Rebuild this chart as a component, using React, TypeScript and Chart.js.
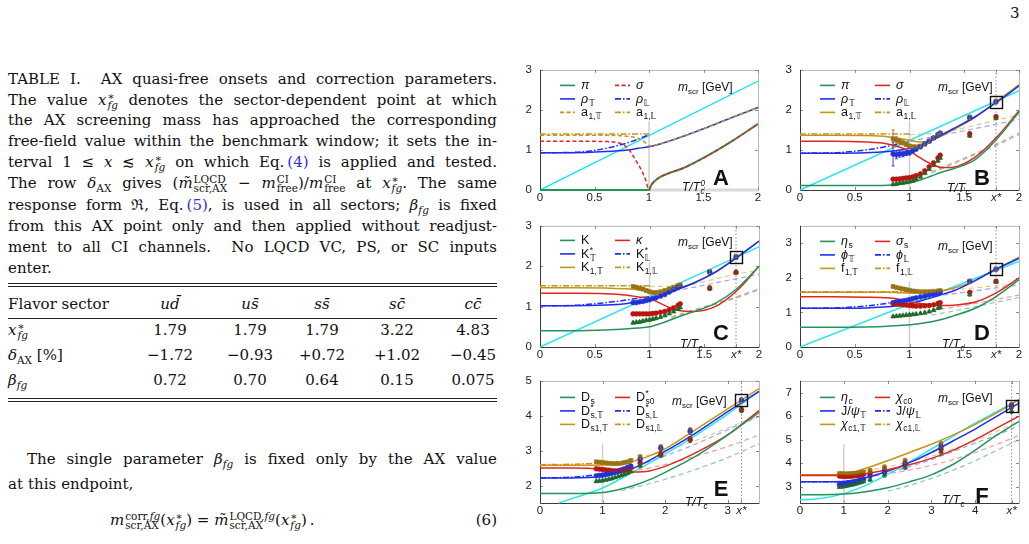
import React, { useEffect, useRef } from "react";
import { Chart, registerables } from "chart.js";

Chart.register(...registerables);

const SERIF = '"DejaVu Serif", "Liberation Serif", serif';
const SANS = '"Liberation Sans", "DejaVu Sans", Arial, sans-serif';

// ---------------- Table I ----------------
const SECTOR_QUARKS: [string, string][] = [["u", "d"], ["u", "s"], ["s", "s"], ["s", "c"], ["c", "c"]];
const X_STAR = [1.79, 1.79, 1.79, 3.22, 4.83];
const DELTA_AX = [-1.72, -0.93, 0.72, 1.02, -0.45];
const BETA = ["0.72", "0.70", "0.64", "0.15", "0.075"];

// ---------------- Panel A (chiral limit) ----------------
const A_PI_X = [0, 0.5, 1.0, 1.02, 1.05, 1.1, 1.2, 1.3, 1.5, 1.75, 2.0];
const A_PI_Y = [0, 0, 0, 0.12, 0.22, 0.32, 0.44, 0.53, 0.8, 1.2, 1.65];
const A_SIGMA_X = [0, 0.3, 0.6, 0.7, 0.8, 0.87, 0.93, 0.97, 1.0, 1.02, 1.05, 1.1, 1.2, 1.3, 1.5, 1.75, 2.0];
const A_SIGMA_Y = [1.22, 1.22, 1.21, 1.19, 1.06, 0.78, 0.5, 0.25, 0, 0.12, 0.22, 0.32, 0.44, 0.53, 0.8, 1.2, 1.65];
const A_RHO_X = [0, 0.3, 0.6, 0.8, 0.9, 1.0, 1.1, 1.25, 1.5, 1.75, 2.0];
const A_RHO_T = [0.93, 0.93, 0.96, 1.0, 1.04, 1.08, 1.15, 1.28, 1.53, 1.8, 2.06];
const A_A1T_X = [0, 0.3, 0.6, 0.8, 0.9, 0.96, 1.0, 1.1, 1.25, 1.5, 1.75, 2.0];
const A_A1T_Y = [1.37, 1.37, 1.37, 1.34, 1.29, 1.2, 1.1, 1.15, 1.28, 1.53, 1.8, 2.06];
const A_RHO_L_X = [0, 0.3, 0.5, 0.7, 0.85, 1.0];
const A_RHO_L_Y = [0.93, 0.94, 0.99, 1.1, 1.22, 1.38];
const A_A1L_X = [0, 0.5, 1.0];
const A_A1L_Y = [1.4, 1.4, 1.4];
const A_FREE = [0, 2.72];
const A_REF = [0, 1.72];

// ---------------- shared grids for B, C, D ----------------
const FREE_X = [0, 2];
const FREE_LIGHT = [0, 2.48];
const G_BCD = [0, 0.3, 0.6, 0.8, 0.9, 1.0, 1.1, 1.2, 1.3, 1.4, 1.6, 1.8, 2.0];
const LOW_BCD = [0, 0.3, 0.5, 0.7, 0.85, 1.0];
const HIGH_BCD = [1.0, 1.25, 1.5, 1.75, 2.0];
const TAIL_BCD = [1.2, 1.5, 1.8, 2.0];
const DENSE_BCD = [0.85, 0.88, 0.91, 0.94, 0.97, 1.0, 1.03, 1.06, 1.1, 1.14, 1.18, 1.22, 1.26, 1.28, 1.55, 1.79];
const ERR_BCD = [0.03, 0.03, 0.03, 0.03, 0.03, 0.03, 0.03, 0.03, 0.03, 0.03, 0.03, 0.03, 0.03, 0.03, 0.05, 0.04];

// ---------------- Panel B (u d-bar) ----------------
const B_PI = [0.11, 0.11, 0.11, 0.12, 0.14, 0.18, 0.25, 0.35, 0.45, 0.53, 0.76, 1.28, 1.95];
const B_SIGMA = [1.22, 1.22, 1.2, 1.15, 1.08, 0.97, 0.8, 0.65, 0.56, 0.57, 0.82, 1.33, 1.98];
const B_RHO_T = [0.92, 0.92, 0.93, 0.96, 0.99, 1.04, 1.12, 1.24, 1.38, 1.53, 1.83, 2.2, 2.6];
const B_A1_T = [1.37, 1.37, 1.36, 1.33, 1.29, 1.24, 1.2, 1.24, 1.36, 1.5, 1.82, 2.22, 2.63];
const B_RHO_L_LOW = [0.92, 0.93, 0.97, 1.04, 1.12, 1.2];
const B_A1_L_LOW = [1.4, 1.4, 1.4, 1.4, 1.4, 1.4];
const B_RHO_L_HIGH = [1.22, 1.35, 1.48, 1.62, 1.76];
const B_A1_L_HIGH = [1.38, 1.42, 1.55, 1.72, 1.87];
const B_SIGMA_FAINT = [0.45, 0.8, 1.15, 1.42];
const B_PI_FAINT = [0.42, 0.77, 1.12, 1.39];
const B_LAT_RHO = [0.9, 0.88, 0.9, 0.9, 0.92, 0.93, 0.98, 1.02, 1.08, 1.15, 1.22, 1.3, 1.38, 1.42, 1.8, 2.2];
const B_LAT_A1 = [1.28, 1.25, 1.22, 1.18, 1.14, 1.1, 1.08, 1.08, 1.1, 1.15, 1.22, 1.3, 1.38, 1.42, 1.82, 2.22];
const B_LAT_SIGMA = [0.27, 0.27, 0.28, 0.29, 0.3, 0.31, 0.33, 0.36, 0.4, 0.48, 0.58, 0.68, 0.8, 0.87, 1.4, 1.83];
const B_LAT_PI = [0.14, 0.15, 0.17, 0.18, 0.19, 0.21, 0.23, 0.27, 0.33, 0.42, 0.52, 0.62, 0.73, 0.8, 1.36, 1.8];
const B_ERR_RHO = [0.3, 0.1, 0.08, 0.07, 0.06, 0.05, 0.04, 0.04, 0.03, 0.03, 0.03, 0.03, 0.03, 0.03, 0.05, 0.04];
const B_ERR_A1 = [0.22, 0.08, 0.06, 0.05, 0.05, 0.04, 0.04, 0.03, 0.03, 0.03, 0.03, 0.03, 0.03, 0.03, 0.05, 0.04];
const B_REF = [0, 1.72];

// ---------------- Panel C (u s-bar) ----------------
const C_K = [0.4, 0.4, 0.42, 0.45, 0.47, 0.5, 0.58, 0.68, 0.78, 0.87, 1.08, 1.45, 2.0];
const C_KAPPA = [1.33, 1.33, 1.32, 1.28, 1.24, 1.2, 1.08, 0.96, 0.89, 0.88, 1.0, 1.4, 2.0];
const C_KST_T = [1.02, 1.02, 1.04, 1.08, 1.12, 1.17, 1.26, 1.36, 1.47, 1.58, 1.85, 2.22, 2.62];
const C_K1_T = [1.47, 1.47, 1.46, 1.44, 1.41, 1.37, 1.36, 1.4, 1.48, 1.58, 1.86, 2.23, 2.63];
const C_KST_L_LOW = [1.02, 1.03, 1.07, 1.13, 1.19, 1.25];
const C_K1_L_LOW = [1.52, 1.52, 1.52, 1.52, 1.52, 1.52];
const C_KST_L_HIGH = [1.26, 1.4, 1.53, 1.67, 1.8];
const C_K1_L_HIGH = [1.5, 1.5, 1.62, 1.78, 1.9];
const C_KAPPA_FAINT = [0.75, 1.0, 1.25, 1.45];
const C_K_FAINT = [0.72, 0.98, 1.22, 1.42];
const C_LAT_KST = [1.1, 1.1, 1.12, 1.13, 1.15, 1.17, 1.2, 1.22, 1.26, 1.3, 1.36, 1.42, 1.48, 1.5, 1.85, 2.22];
const C_LAT_K1 = [1.5, 1.48, 1.46, 1.44, 1.4, 1.37, 1.35, 1.35, 1.37, 1.4, 1.44, 1.48, 1.52, 1.54, 1.87, 2.25];
const C_LAT_KAPPA = [0.82, 0.82, 0.82, 0.82, 0.82, 0.82, 0.83, 0.84, 0.86, 0.88, 0.92, 0.97, 1.03, 1.07, 1.46, 1.85];
const C_LAT_K = [0.6, 0.61, 0.62, 0.64, 0.66, 0.67, 0.69, 0.71, 0.74, 0.78, 0.83, 0.88, 0.94, 0.98, 1.45, 1.85];
const C_REF = [0, 2.1];

// ---------------- Panel D (s s-bar) ----------------
const D_ETA = [0.57, 0.57, 0.58, 0.6, 0.62, 0.64, 0.68, 0.73, 0.8, 0.9, 1.12, 1.48, 1.95];
const D_SIGMA = [1.45, 1.45, 1.44, 1.42, 1.38, 1.31, 1.26, 1.22, 1.2, 1.21, 1.3, 1.58, 2.0];
const D_PHI_T = [1.12, 1.12, 1.13, 1.16, 1.2, 1.25, 1.33, 1.42, 1.52, 1.62, 1.92, 2.27, 2.56];
const D_F1_T = [1.58, 1.58, 1.58, 1.58, 1.57, 1.56, 1.56, 1.58, 1.63, 1.7, 1.92, 2.26, 2.6];
const D_PHI_L_LOW = [1.12, 1.13, 1.16, 1.22, 1.29, 1.36];
const D_F1_L_LOW = [1.6, 1.6, 1.6, 1.6, 1.6, 1.6];
const D_PHI_L_HIGH = [1.37, 1.48, 1.58, 1.69, 1.79];
const D_F1_L_HIGH = [1.6, 1.62, 1.68, 1.76, 1.84];
const D_SIGMA_FAINT = [1.05, 1.2, 1.38, 1.5];
const D_ETA_FAINT = [0.92, 1.1, 1.3, 1.43];
const D_LAT_F1 = [1.75, 1.72, 1.7, 1.68, 1.66, 1.64, 1.62, 1.61, 1.6, 1.6, 1.6, 1.61, 1.62, 1.63, 1.9, 2.25];
const D_LAT_PHI = [1.28, 1.3, 1.32, 1.33, 1.35, 1.37, 1.4, 1.42, 1.45, 1.47, 1.5, 1.52, 1.55, 1.57, 1.9, 2.25];
const D_LAT_SIGMA = [1.25, 1.24, 1.23, 1.22, 1.21, 1.2, 1.19, 1.18, 1.18, 1.19, 1.2, 1.22, 1.26, 1.28, 1.58, 1.9];
const D_LAT_ETA = [0.88, 0.89, 0.9, 0.91, 0.92, 0.93, 0.94, 0.95, 0.97, 0.99, 1.02, 1.06, 1.12, 1.15, 1.52, 1.88];
const D_REF = [0, 1.9];

// ---------------- Panel E (s c-bar) ----------------
const E_X = [0, 0.5, 1.0, 1.25, 1.5, 1.75, 2.0, 2.5, 3.0, 3.5];
const E_DS = [1.77, 1.77, 1.8, 1.88, 2.0, 2.17, 2.38, 2.85, 3.45, 4.1];
const E_DS0 = [2.5, 2.5, 2.47, 2.42, 2.39, 2.42, 2.55, 2.95, 3.45, 4.15];
const E_DST_T = [2.22, 2.22, 2.26, 2.35, 2.5, 2.72, 2.98, 3.52, 4.12, 4.7];
const E_DS1_T = [2.58, 2.58, 2.59, 2.63, 2.7, 2.85, 3.05, 3.62, 4.2, 4.78];
const E_LOW_X = [0, 0.5, 1.0, 1.3];
const E_DST_L_LOW = [2.22, 2.24, 2.33, 2.42];
const E_DS1_L_LOW = [2.6, 2.61, 2.65, 2.68];
const E_HIGH_X = [1.3, 2.0, 2.5, 3.0, 3.5];
const E_DST_L_HIGH = [2.42, 2.85, 3.2, 3.6, 3.98];
const E_DS1_L_HIGH = [2.68, 3.0, 3.3, 3.65, 4.0];
const E_DS0_FAINT = [2.35, 2.6, 2.85, 3.12, 3.45];
const E_DS_FAINT = [1.85, 2.18, 2.47, 2.8, 3.2];
const E_FREE_X = [0.3, 0.5, 1.0, 1.5, 2.0, 2.5, 3.0, 3.5];
const E_FREE_Y = [1.5, 1.62, 1.93, 2.4, 2.9, 3.45, 4.05, 4.7];
const E_LAT_X = [0.9, 0.95, 1.0, 1.05, 1.1, 1.15, 1.2, 1.25, 1.3, 1.35, 1.4, 1.45, 1.6, 1.93, 2.4, 3.22];
const E_LAT_DS1 = [2.68, 2.67, 2.66, 2.65, 2.64, 2.63, 2.63, 2.63, 2.64, 2.66, 2.68, 2.72, 2.82, 3.1, 3.58, 4.43];
const E_LAT_DST = [2.28, 2.29, 2.3, 2.32, 2.34, 2.36, 2.39, 2.42, 2.45, 2.48, 2.52, 2.56, 2.75, 3.07, 3.55, 4.45];
const E_LAT_DS0 = [2.48, 2.47, 2.46, 2.45, 2.44, 2.43, 2.42, 2.42, 2.43, 2.45, 2.47, 2.5, 2.65, 2.9, 3.32, 4.18];
const E_LAT_DS = [2.12, 2.13, 2.14, 2.16, 2.18, 2.2, 2.23, 2.26, 2.29, 2.32, 2.36, 2.4, 2.57, 2.87, 3.32, 4.15];
const E_ERR = [0.03, 0.03, 0.03, 0.03, 0.03, 0.03, 0.03, 0.03, 0.03, 0.03, 0.03, 0.03, 0.06, 0.07, 0.08, 0.06];
const E_REF = [1.5, 3.2];

// ---------------- Panel F (c c-bar) ----------------
const F_X = [0, 0.5, 1.0, 1.5, 2.0, 2.5, 3.0, 3.5, 4.0, 4.5, 5.0];
const F_ETA = [2.65, 2.65, 2.68, 2.78, 2.95, 3.2, 3.5, 3.95, 4.55, 5.2, 5.78];
const F_CHI0 = [3.47, 3.47, 3.47, 3.55, 3.72, 3.93, 4.2, 4.55, 5.0, 5.5, 6.0];
const F_PSI_T = [3.2, 3.2, 3.22, 3.38, 3.65, 4.02, 4.45, 4.95, 5.45, 6.0, 6.55];
const F_CHI1_T = [3.5, 3.5, 3.52, 3.78, 4.1, 4.45, 4.8, 5.2, 5.65, 6.15, 6.7];
const F_FREE_Y = [2.43, 2.5, 2.7, 3.05, 3.52, 4.05, 4.6, 5.15, 5.7, 6.2, 6.7];
const F_LOW_X = [0, 0.5, 1.0, 1.5];
const F_PSI_L_LOW = [3.2, 3.2, 3.22, 3.36];
const F_CHI1_L_LOW = [3.5, 3.5, 3.52, 3.68];
const F_HIGH_X = [1.5, 2.0, 2.5, 3.0, 3.5, 4.0, 4.5, 5.0];
const F_PSI_L_HIGH = [3.36, 3.58, 3.85, 4.15, 4.5, 4.85, 5.2, 5.6];
const F_CHI1_L_HIGH = [3.68, 3.85, 4.05, 4.3, 4.6, 4.95, 5.35, 5.8];
const F_CHI0_FAINT = [3.45, 3.55, 3.7, 3.9, 4.15, 4.45, 4.8, 5.18];
const F_ETA_FAINT_X = [2.0, 2.5, 3.0, 3.5, 4.0, 4.5, 5.0];
const F_ETA_FAINT = [2.8, 3.05, 3.35, 3.7, 4.1, 4.55, 5.0];
const F_LAT_X = [0.9, 0.95, 1.0, 1.05, 1.1, 1.15, 1.2, 1.25, 1.3, 1.35, 1.4, 1.45, 1.6, 1.93, 2.4, 3.22, 4.83];
const F_LAT_CHI1 = [3.55, 3.55, 3.54, 3.54, 3.54, 3.55, 3.55, 3.56, 3.57, 3.58, 3.6, 3.62, 3.68, 3.82, 4.1, 4.8, 6.48];
const F_LAT_CHI0 = [3.45, 3.44, 3.43, 3.43, 3.43, 3.44, 3.45, 3.46, 3.47, 3.48, 3.5, 3.52, 3.57, 3.72, 4.0, 4.58, 6.4];
const F_LAT_PSI = [3.08, 3.09, 3.1, 3.12, 3.14, 3.16, 3.18, 3.2, 3.22, 3.25, 3.28, 3.3, 3.45, 3.62, 3.95, 4.7, 6.45];
const F_LAT_ETA = [2.98, 2.99, 3.0, 3.02, 3.04, 3.06, 3.08, 3.1, 3.13, 3.16, 3.19, 3.22, 3.3, 3.5, 3.82, 4.48, 6.22];
const F_ERR = [0.04, 0.04, 0.04, 0.04, 0.04, 0.04, 0.04, 0.04, 0.04, 0.04, 0.04, 0.04, 0.08, 0.1, 0.1, 0.12, 0.1];
const F_REF = [2.3, 4.8];

// ---------------- styles ----------------
const C_GREEN = "#22965a";
const C_RED = "#e0261e";
const C_BLUE = "#1d2ef2";
const C_GOLD = "#c59518";
const C_CYAN = "#30e4ee";
const C_REF_GRAY = "#cfcfcf";
const M_GREEN = "#1e6b2b";
const M_RED = "#b8170f";
const M_BLUE = "#2233d6";
const M_GOLD = "#9a7416";
const F_GREEN = "rgba(34,150,90,0.5)";
const F_RED = "rgba(224,38,30,0.45)";
const F_BLUE = "rgba(29,46,242,0.45)";
const F_GOLD = "rgba(197,149,24,0.5)";
const DASH = [4, 2.5];
const DASH_DOT = [6, 2, 1.5, 2];
const FAINT = [5, 3.5];
const DOTTED = [1.5, 2];

type Curve = { xs: number[]; ys: number[]; color: string; dash?: number[]; width?: number; straight?: boolean; order?: number };
type Marks = { xs: number[]; ys: number[]; errs?: number[]; color: string; shape: string; r?: number };
type LegendItem = { label: string; color: string; dash?: number[] };
type PanelSpec = {
  left: number; top: number; w: number; h: number;
  xMax: number; yMin: number; yMax: number; xTicks: number[]; yTicks: number[];
  xStar?: number; boxY?: number;
  letter: string; tempLabel: string; legendTop: number;
  mPos: [number, number]; letterPos: [number, number]; tPos: [number, number];
  legend: LegendItem[]; curves: Curve[]; marks: Marks[];
};

const refLine = (ys: number[]): Curve => ({ xs: [1, 1], ys, color: C_REF_GRAY, width: 1.5, straight: true, order: 5 });
const starLine = (x: number, y0: number, y1: number): Curve => ({ xs: [x, x], ys: [y0, y1], color: "#8c8c8c", dash: DOTTED, width: 1, straight: true, order: 5 });

const latticeMarks = (xs: number[], blue: number[], gold: number[], red: number[], green: number[], eb: number[], eg: number[], e: number[]): Marks[] => [
  { xs, ys: blue, errs: eb, color: M_BLUE, shape: "circle", r: 2.4 },
  { xs, ys: gold, errs: eg, color: M_GOLD, shape: "rect", r: 2.8 },
  { xs, ys: red, errs: e, color: M_RED, shape: "circle", r: 2.4 },
  { xs, ys: green, errs: e, color: M_GREEN, shape: "triangle", r: 2.8 },
];

const LEG_AB: LegendItem[] = [
  { label: "π", color: C_GREEN }, { label: "σ", color: C_RED },
  { label: "ρ_{𝕋}", color: C_BLUE }, { label: "ρ_{𝕃}", color: C_BLUE, dash: DASH_DOT },
  { label: "a_{1,𝕋}", color: C_GOLD }, { label: "a_{1,𝕃}", color: C_GOLD, dash: DASH_DOT },
];

const PANELS: PanelSpec[] = [
  {
    left: 540, top: 63, w: 218, h: 127, xMax: 2, yMin: 0, yMax: 3,
    xTicks: [0, 0.5, 1, 1.5, 2], yTicks: [0, 1, 2, 3],
    letter: "A", tempLabel: "T/T_{c}^{0}", legendTop: 15,
    mPos: [138, 17], letterPos: [181, 109], tPos: [142, 117],
    legend: [
      { label: "π", color: C_GREEN }, { label: "σ", color: C_RED, dash: DASH },
      { label: "ρ_{𝕋}", color: C_BLUE }, { label: "ρ_{𝕃}", color: C_BLUE, dash: DASH_DOT },
      { label: "a_{1,𝕋}", color: C_GOLD, dash: DASH }, { label: "a_{1,𝕃}", color: C_GOLD, dash: DASH_DOT },
    ],
    curves: [
      refLine(A_REF),
      { xs: [1, 2], ys: [0, 0], color: "#d9d9d9", width: 3, straight: true, order: 5 },
      { xs: FREE_X, ys: A_FREE, color: C_CYAN, straight: true, order: 2 },
      { xs: A_SIGMA_X, ys: A_SIGMA_Y, color: C_RED, dash: DASH, order: 1 },
      { xs: A_PI_X, ys: A_PI_Y, color: C_GREEN, width: 2, order: 1.5 },
      { xs: A_A1T_X, ys: A_A1T_Y, color: C_GOLD, dash: DASH, order: 1 },
      { xs: A_RHO_X, ys: A_RHO_T, color: C_BLUE, order: 1.5 },
      { xs: A_RHO_L_X, ys: A_RHO_L_Y, color: C_BLUE, dash: DASH_DOT, order: 1.2 },
      { xs: A_A1L_X, ys: A_A1L_Y, color: C_GOLD, dash: DASH_DOT, order: 1.2 },
    ],
    marks: [],
  },
  {
    left: 800, top: 63, w: 219, h: 127, xMax: 2, yMin: 0, yMax: 3,
    xTicks: [0, 0.5, 1, 1.5, X_STAR[0], 2], yTicks: [0, 1, 2, 3], xStar: X_STAR[0], boxY: B_LAT_RHO[15],
    letter: "B", tempLabel: "T/T_{c}", legendTop: 15,
    mPos: [138, 17], letterPos: [182, 109], tPos: [147, 118],
    legend: LEG_AB,
    curves: [
      refLine(B_REF), starLine(X_STAR[0], 0, 3),
      { xs: TAIL_BCD, ys: B_PI_FAINT, color: F_GREEN, dash: FAINT, width: 1.2, order: 4 },
      { xs: TAIL_BCD, ys: B_SIGMA_FAINT, color: F_RED, dash: FAINT, width: 1.2, order: 4 },
      { xs: HIGH_BCD, ys: B_RHO_L_HIGH, color: F_BLUE, dash: FAINT, width: 1.2, order: 4 },
      { xs: HIGH_BCD, ys: B_A1_L_HIGH, color: F_GOLD, dash: FAINT, width: 1.2, order: 4 },
      { xs: FREE_X, ys: FREE_LIGHT, color: C_CYAN, straight: true, order: 2 },
      { xs: G_BCD, ys: B_PI, color: C_GREEN, order: 1 },
      { xs: G_BCD, ys: B_SIGMA, color: C_RED, order: 1 },
      { xs: G_BCD, ys: B_RHO_T, color: C_BLUE, order: 1 },
      { xs: G_BCD, ys: B_A1_T, color: C_GOLD, order: 1 },
      { xs: LOW_BCD, ys: B_RHO_L_LOW, color: C_BLUE, dash: DASH_DOT, order: 1.2 },
      { xs: LOW_BCD, ys: B_A1_L_LOW, color: C_GOLD, dash: DASH_DOT, order: 1.2 },
    ],
    marks: latticeMarks(DENSE_BCD, B_LAT_RHO, B_LAT_A1, B_LAT_SIGMA, B_LAT_PI, B_ERR_RHO, B_ERR_A1, ERR_BCD),
  },
  {
    left: 540, top: 219, w: 219, h: 128, xMax: 2, yMin: 0, yMax: 3,
    xTicks: [0, 0.5, 1, 1.5, X_STAR[1], 2], yTicks: [0, 1, 2, 3], xStar: X_STAR[1], boxY: C_LAT_KST[15],
    letter: "C", tempLabel: "T/T_{c}", legendTop: 14,
    mPos: [138, 16], letterPos: [181, 108], tPos: [140, 118],
    legend: [
      { label: "K", color: C_GREEN }, { label: "κ", color: C_RED },
      { label: "K^{*}_{𝕋}", color: C_BLUE }, { label: "K^{*}_{𝕃}", color: C_BLUE, dash: DASH_DOT },
      { label: "K_{1,𝕋}", color: C_GOLD }, { label: "K_{1,𝕃}", color: C_GOLD, dash: DASH_DOT },
    ],
    curves: [
      refLine(C_REF), starLine(X_STAR[1], 0, 3),
      { xs: TAIL_BCD, ys: C_K_FAINT, color: F_GREEN, dash: FAINT, width: 1.2, order: 4 },
      { xs: TAIL_BCD, ys: C_KAPPA_FAINT, color: F_RED, dash: FAINT, width: 1.2, order: 4 },
      { xs: HIGH_BCD, ys: C_KST_L_HIGH, color: F_BLUE, dash: FAINT, width: 1.2, order: 4 },
      { xs: HIGH_BCD, ys: C_K1_L_HIGH, color: F_GOLD, dash: FAINT, width: 1.2, order: 4 },
      { xs: FREE_X, ys: FREE_LIGHT, color: C_CYAN, straight: true, order: 2 },
      { xs: G_BCD, ys: C_K, color: C_GREEN, order: 1 },
      { xs: G_BCD, ys: C_KAPPA, color: C_RED, order: 1 },
      { xs: G_BCD, ys: C_KST_T, color: C_BLUE, order: 1 },
      { xs: G_BCD, ys: C_K1_T, color: C_GOLD, order: 1 },
      { xs: LOW_BCD, ys: C_KST_L_LOW, color: C_BLUE, dash: DASH_DOT, order: 1.2 },
      { xs: LOW_BCD, ys: C_K1_L_LOW, color: C_GOLD, dash: DASH_DOT, order: 1.2 },
    ],
    marks: latticeMarks(DENSE_BCD, C_LAT_KST, C_LAT_K1, C_LAT_KAPPA, C_LAT_K, ERR_BCD, ERR_BCD, ERR_BCD),
  },
  {
    left: 800, top: 219, w: 219, h: 128, xMax: 2, yMin: 0, yMax: 3.5,
    xTicks: [0, 0.5, 1, 1.5, X_STAR[2], 2], yTicks: [0, 1, 2, 3], xStar: X_STAR[2], boxY: D_LAT_PHI[15],
    letter: "D", tempLabel: "T/T_{c}", legendTop: 15,
    mPos: [138, 20], letterPos: [182, 108], tPos: [142, 118],
    legend: [
      { label: "η_{s}", color: C_GREEN }, { label: "σ_{s}", color: C_RED },
      { label: "ϕ_{𝕋}", color: C_BLUE }, { label: "ϕ_{𝕃}", color: C_BLUE, dash: DASH_DOT },
      { label: "f_{1,𝕋}", color: C_GOLD }, { label: "f_{1,𝕃}", color: C_GOLD, dash: DASH_DOT },
    ],
    curves: [
      refLine(D_REF), starLine(X_STAR[2], 0, 3.5),
      { xs: TAIL_BCD, ys: D_ETA_FAINT, color: F_GREEN, dash: FAINT, width: 1.2, order: 4 },
      { xs: TAIL_BCD, ys: D_SIGMA_FAINT, color: F_RED, dash: FAINT, width: 1.2, order: 4 },
      { xs: HIGH_BCD, ys: D_PHI_L_HIGH, color: F_BLUE, dash: FAINT, width: 1.2, order: 4 },
      { xs: HIGH_BCD, ys: D_F1_L_HIGH, color: F_GOLD, dash: FAINT, width: 1.2, order: 4 },
      { xs: FREE_X, ys: FREE_LIGHT, color: C_CYAN, straight: true, order: 2 },
      { xs: G_BCD, ys: D_ETA, color: C_GREEN, order: 1 },
      { xs: G_BCD, ys: D_SIGMA, color: C_RED, order: 1 },
      { xs: G_BCD, ys: D_PHI_T, color: C_BLUE, order: 1 },
      { xs: G_BCD, ys: D_F1_T, color: C_GOLD, order: 1 },
      { xs: LOW_BCD, ys: D_PHI_L_LOW, color: C_BLUE, dash: DASH_DOT, order: 1.2 },
      { xs: LOW_BCD, ys: D_F1_L_LOW, color: C_GOLD, dash: DASH_DOT, order: 1.2 },
    ],
    marks: latticeMarks(DENSE_BCD, D_LAT_PHI, D_LAT_F1, D_LAT_SIGMA, D_LAT_ETA, ERR_BCD, ERR_BCD, ERR_BCD),
  },
  {
    left: 540, top: 374, w: 219, h: 129, xMax: 3.5, yMin: 1.5, yMax: 5,
    xTicks: [0, 1, 2, 3, X_STAR[3]], yTicks: [2, 3, 4, 5], xStar: X_STAR[3], boxY: E_LAT_DST[15],
    letter: "E", tempLabel: "T/T_{c}", legendTop: 16,
    mPos: [132, 20], letterPos: [181, 109], tPos: [145, 121],
    legend: [
      { label: "D_{s}", color: C_GREEN }, { label: "D^{*}_{s0}", color: C_RED },
      { label: "D^{*}_{s,𝕋}", color: C_BLUE }, { label: "D^{*}_{s,𝕃}", color: C_BLUE, dash: DASH_DOT },
      { label: "D_{s1,𝕋}", color: C_GOLD }, { label: "D_{s1,𝕃}", color: C_GOLD, dash: DASH_DOT },
    ],
    curves: [
      refLine(E_REF), starLine(X_STAR[3], 1.5, 5),
      { xs: E_HIGH_X, ys: E_DS_FAINT, color: F_GREEN, dash: FAINT, width: 1.2, order: 4 },
      { xs: E_HIGH_X, ys: E_DS0_FAINT, color: F_RED, dash: FAINT, width: 1.2, order: 4 },
      { xs: E_HIGH_X, ys: E_DST_L_HIGH, color: F_BLUE, dash: FAINT, width: 1.2, order: 4 },
      { xs: E_HIGH_X, ys: E_DS1_L_HIGH, color: F_GOLD, dash: FAINT, width: 1.2, order: 4 },
      { xs: E_FREE_X, ys: E_FREE_Y, color: C_CYAN, order: 2 },
      { xs: E_X, ys: E_DS, color: C_GREEN, order: 1 },
      { xs: E_X, ys: E_DS0, color: C_RED, order: 1 },
      { xs: E_X, ys: E_DST_T, color: C_BLUE, order: 1 },
      { xs: E_X, ys: E_DS1_T, color: C_GOLD, order: 1 },
      { xs: E_LOW_X, ys: E_DST_L_LOW, color: C_BLUE, dash: DASH_DOT, order: 1.2 },
      { xs: E_LOW_X, ys: E_DS1_L_LOW, color: C_GOLD, dash: DASH_DOT, order: 1.2 },
    ],
    marks: latticeMarks(E_LAT_X, E_LAT_DST, E_LAT_DS1, E_LAT_DS0, E_LAT_DS, E_ERR, E_ERR, E_ERR),
  },
  {
    left: 800, top: 374, w: 219, h: 129, xMax: 5, yMin: 2.3, yMax: 7.5,
    xTicks: [0, 1, 2, 3, 4, X_STAR[4]], yTicks: [3, 4, 5, 6, 7], xStar: X_STAR[4], boxY: F_LAT_PSI[16],
    letter: "F", tempLabel: "T/T_{c}", legendTop: 16,
    mPos: [138, 17], letterPos: [182, 116], tPos: [142, 119],
    legend: [
      { label: "η_{c}", color: C_GREEN }, { label: "χ_{c0}", color: C_RED },
      { label: "J/ψ_{𝕋}", color: C_BLUE }, { label: "J/ψ_{𝕃}", color: C_BLUE, dash: DASH_DOT },
      { label: "χ_{c1,𝕋}", color: C_GOLD }, { label: "χ_{c1,𝕃}", color: C_GOLD, dash: DASH_DOT },
    ],
    curves: [
      refLine(F_REF), starLine(X_STAR[4], 2.3, 7.5),
      { xs: F_ETA_FAINT_X, ys: F_ETA_FAINT, color: F_GREEN, dash: FAINT, width: 1.2, order: 4 },
      { xs: F_HIGH_X, ys: F_CHI0_FAINT, color: F_RED, dash: FAINT, width: 1.2, order: 4 },
      { xs: F_HIGH_X, ys: F_PSI_L_HIGH, color: F_BLUE, dash: FAINT, width: 1.2, order: 4 },
      { xs: F_HIGH_X, ys: F_CHI1_L_HIGH, color: F_GOLD, dash: FAINT, width: 1.2, order: 4 },
      { xs: F_X, ys: F_FREE_Y, color: C_CYAN, order: 2 },
      { xs: F_X, ys: F_ETA, color: C_GREEN, order: 1 },
      { xs: F_X, ys: F_CHI0, color: C_RED, order: 1 },
      { xs: F_X, ys: F_PSI_T, color: C_BLUE, order: 1 },
      { xs: F_X, ys: F_CHI1_T, color: C_GOLD, order: 1 },
      { xs: F_LOW_X, ys: F_PSI_L_LOW, color: C_BLUE, dash: DASH_DOT, order: 1.2 },
      { xs: F_LOW_X, ys: F_CHI1_L_LOW, color: C_GOLD, dash: DASH_DOT, order: 1.2 },
    ],
    marks: latticeMarks(F_LAT_X, F_LAT_PSI, F_LAT_CHI1, F_LAT_CHI0, F_LAT_ETA, F_ERR, F_ERR, F_ERR),
  },
];

// ---------------- canvas text helpers ----------------
const isGreek = (cp: number) => cp >= 0x370 && cp <= 0x3ff;

function drawRun(ctx: CanvasRenderingContext2D, text: string, x: number, y: number, size: number, italicAll = false): number {
  let cx = x;
  for (const ch of Array.from(text)) {
    const cp = ch.codePointAt(0) || 0;
    const ital = italicAll || isGreek(cp);
    ctx.font = `${ital ? "italic " : ""}${size}px ${SANS}`;
    ctx.fillText(ch, cx, y);
    cx += ctx.measureText(ch).width;
  }
  return cx - x;
}

// Renders "base_{sub}^{sup}" style labels
function drawRich(ctx: CanvasRenderingContext2D, src: string, x: number, y: number, size: number, italicAll = false): number {
  const isMark = (k: number) => (src[k] === "_" || src[k] === "^") && src[k + 1] === "{";
  let i = 0;
  let cx = x;
  while (i < src.length) {
    if (isMark(i)) {
      let sup = "";
      let sub = "";
      while (i < src.length && isMark(i)) {
        const end = src.indexOf("}", i);
        const body = src.slice(i + 2, end);
        if (src[i] === "^") sup = body;
        else sub = body;
        i = end + 1;
      }
      const s = size * 0.68;
      let w = 0;
      if (sup) w = Math.max(w, drawRun(ctx, sup, cx + 0.5, y - size * 0.42, s, italicAll));
      if (sub) w = Math.max(w, drawRun(ctx, sub, cx + 0.5, y + size * 0.24, s, italicAll));
      cx += w + 1;
    } else {
      let j = i;
      while (j < src.length && !isMark(j)) j++;
      cx += drawRun(ctx, src.slice(i, j), cx, y, size, italicAll);
      i = j;
    }
  }
  return cx - x;
}

const Y_AXIS_W = 22;
const X_AXIS_H = 18;
const PAD_T = 8;
const PAD_R = 8;

function decorPlugin(p: PanelSpec) {
  return {
    id: "panelDecor",
    beforeDatasetsDraw(chart: any) {
      const { ctx, chartArea: a, scales } = chart;
      ctx.save();
      ctx.lineWidth = 1;
      ctx.strokeStyle = "#b8b8b8";
      ctx.strokeRect(a.left + 0.5, a.top + 0.5, a.right - a.left, a.bottom - a.top);
      ctx.strokeStyle = "#8a8a8a";
      ctx.beginPath();
      p.xTicks.forEach((v) => {
        const x = Math.round(scales.x.getPixelForValue(v)) + 0.5;
        ctx.moveTo(x, a.bottom);
        ctx.lineTo(x, a.bottom - 3);
        ctx.moveTo(x, a.top);
        ctx.lineTo(x, a.top + 3);
      });
      p.yTicks.forEach((v) => {
        const y = Math.round(scales.y.getPixelForValue(v)) + 0.5;
        ctx.moveTo(a.left, y);
        ctx.lineTo(a.left + 3, y);
        ctx.moveTo(a.right, y);
        ctx.lineTo(a.right - 3, y);
      });
      ctx.stroke();
      ctx.strokeStyle = "#3a3a3a";
      ctx.beginPath();
      ctx.moveTo(a.left + 0.5, a.top);
      ctx.lineTo(a.left + 0.5, a.bottom + 0.5);
      ctx.lineTo(a.right, a.bottom + 0.5);
      ctx.stroke();
      ctx.restore();
    },
    afterDatasetsDraw(chart: any) {
      const { ctx, scales } = chart;
      ctx.save();
      ctx.lineWidth = 0.9;
      chart.data.datasets.forEach((d: any) => {
        if (!d.errs) return;
        ctx.strokeStyle = d.pointBorderColor;
        ctx.beginPath();
        d.data.forEach((pt: any, j: number) => {
          const e = d.errs[j];
          if (!e) return;
          const x = scales.x.getPixelForValue(pt.x);
          const y1 = scales.y.getPixelForValue(pt.y - e);
          const y2 = scales.y.getPixelForValue(pt.y + e);
          ctx.moveTo(x, y1);
          ctx.lineTo(x, y2);
          ctx.moveTo(x - 1.5, y1);
          ctx.lineTo(x + 1.5, y1);
          ctx.moveTo(x - 1.5, y2);
          ctx.lineTo(x + 1.5, y2);
        });
        ctx.stroke();
      });
      ctx.restore();
    },
    afterDraw(chart: any) {
      const { ctx, chartArea: a, scales } = chart;
      const L = a.left;
      const T = a.top;
      ctx.save();
      ctx.textBaseline = "alphabetic";
      ctx.textAlign = "left";
      // value that fixes the correction parameter
      if (p.xStar !== undefined && p.boxY !== undefined) {
        const bx = scales.x.getPixelForValue(p.xStar);
        const by = scales.y.getPixelForValue(p.boxY);
        ctx.strokeStyle = "#111";
        ctx.lineWidth = 1.4;
        ctx.strokeRect(Math.round(bx - 6) + 0.5, Math.round(by - 6) + 0.5, 12, 12);
      }
      // legend, two columns
      p.legend.forEach((item, k) => {
        const row = Math.floor(k / 2);
        const col = k % 2;
        const y = T + p.legendTop + row * 13.5;
        const x0 = L + 20 + col * 55;
        ctx.strokeStyle = item.color;
        ctx.lineWidth = 1.6;
        ctx.setLineDash(item.dash || []);
        ctx.beginPath();
        ctx.moveTo(x0, y + 0.5);
        ctx.lineTo(x0 + 15, y + 0.5);
        ctx.stroke();
        ctx.setLineDash([]);
        ctx.fillStyle = "#111";
        drawRich(ctx, item.label, x0 + 21, y + 4.5, 12.5);
      });
      // axis annotations
      ctx.fillStyle = "#111";
      let cx = L + p.mPos[0];
      const my = T + p.mPos[1] + 4;
      cx += drawRun(ctx, "m", cx, my, 12, true);
      cx += drawRun(ctx, "scr", cx, my + 3, 8);
      drawRun(ctx, " [GeV]", cx, my, 12);
      drawRich(ctx, p.tempLabel, L + p.tPos[0], T + p.tPos[1] + 4, 12, true);
      ctx.font = `bold 22px ${SANS}`;
      ctx.textAlign = "center";
      ctx.textBaseline = "middle";
      ctx.fillText(p.letter, L + p.letterPos[0], T + p.letterPos[1]);
      ctx.restore();
    },
  };
}

function makeConfig(p: PanelSpec): any {
  const datasets: any[] = [];
  p.marks.forEach((m) => {
    datasets.push({
      data: m.xs.map((x, i) => ({ x, y: m.ys[i] })),
      showLine: false,
      pointStyle: m.shape,
      pointRadius: m.r ?? 2.5,
      pointBackgroundColor: m.color,
      pointBorderColor: m.color,
      pointBorderWidth: 0.6,
      errs: m.errs,
      order: 0,
      clip: false,
    });
  });
  p.curves.forEach((c) => {
    datasets.push({
      data: c.xs.map((x, i) => ({ x, y: c.ys[i] })),
      showLine: true,
      borderColor: c.color,
      borderWidth: c.width ?? 1.5,
      borderDash: c.dash || [],
      pointRadius: 0,
      pointHoverRadius: 0,
      cubicInterpolationMode: c.straight ? "default" : "monotone",
      tension: 0,
      fill: false,
      order: c.order ?? 1,
      clip: false,
    });
  });
  const isStar = (v: number) => p.xStar !== undefined && Math.abs(v - p.xStar) < 1e-6;
  return {
    type: "scatter",
    data: { datasets },
    options: {
      animation: false,
      responsive: false,
      maintainAspectRatio: false,
      events: [],
      layout: { padding: { top: PAD_T, right: PAD_R, left: 0, bottom: 0 } },
      plugins: { legend: { display: false }, tooltip: { enabled: false } },
      scales: {
        x: {
          type: "linear",
          min: 0,
          max: p.xMax,
          grid: { display: false, drawTicks: false },
          border: { display: false },
          afterBuildTicks: (s: any) => { s.ticks = p.xTicks.map((v) => ({ value: v })); },
          afterFit: (s: any) => { s.height = X_AXIS_H; },
          ticks: {
            autoSkip: false,
            maxRotation: 0,
            padding: 1,
            color: "#222",
            font: (c: any) => ({ family: SANS, size: 11.5, style: c.tick && isStar(c.tick.value) ? "italic" : "normal" }),
            callback: (v: number) => (isStar(v) ? "x*" : String(v)),
          },
        },
        y: {
          type: "linear",
          min: p.yMin,
          max: p.yMax,
          grid: { display: false, drawTicks: false },
          border: { display: false },
          afterBuildTicks: (s: any) => { s.ticks = p.yTicks.map((v) => ({ value: v })); },
          afterFit: (s: any) => { s.width = Y_AXIS_W; },
          ticks: { padding: 8, color: "#222", font: { family: SANS, size: 11.5 }, callback: (v: number) => String(v) },
        },
      },
    },
    plugins: [decorPlugin(p)],
  };
}

function Panel({ spec }: { spec: PanelSpec }) {
  const ref = useRef<HTMLCanvasElement>(null);
  useEffect(() => {
    const chart = new Chart(ref.current as HTMLCanvasElement, makeConfig(spec));
    return () => chart.destroy();
  }, [spec]);
  const cw = Y_AXIS_W + spec.w + PAD_R;
  const ch = PAD_T + spec.h + X_AXIS_H;
  return (
    <canvas
      ref={ref}
      width={cw}
      height={ch}
      style={{ position: "absolute", left: spec.left - Y_AXIS_W, top: spec.top - PAD_T, width: cw, height: ch }}
    />
  );
}

// ---------------- text column ----------------
const LINK = "#3030d8";

function SS({ sup, sub }: { sup?: React.ReactNode; sub?: React.ReactNode }) {
  return (
    <span style={{ display: "inline-flex", flexDirection: "column", fontSize: 10.5, lineHeight: "9px", verticalAlign: 5, marginLeft: 1 }}>
      <span>{sup || "\u00a0"}</span>
      <span>{sub}</span>
    </span>
  );
}

function Sb({ children }: { children: React.ReactNode }) {
  return <span style={{ fontSize: 10.5, position: "relative", top: 3.5 }}>{children}</span>;
}

const XFG = (
  <span>
    <i>x</i>
    <SS sup="∗" sub={<i>fg</i>} />
  </span>
);
const BETA_FG = (
  <span>
    <i>β</i>
    <Sb><i>fg</i></Sb>
  </span>
);
const DELTA_SYM = (
  <span>
    <i>δ</i>
    <Sb>AX</Sb>
  </span>
);

function Line({ y, words, indent = 0, last = false }: { y: number; words: React.ReactNode[]; indent?: number; last?: boolean }) {
  return (
    <div
      style={{
        position: "absolute", left: 8 + indent, top: y - 10, width: 489 - indent, height: 20, lineHeight: "20px",
        display: "flex", justifyContent: last ? "flex-start" : "space-between", columnGap: last ? 5 : 0,
        alignItems: "baseline", whiteSpace: "nowrap", fontFamily: SERIF, fontSize: 15,
      }}
    >
      {words.map((w, i) => <span key={i}>{w}</span>)}
    </div>
  );
}

const W = (s: string) => s.split(" ");

function TextColumn() {
  const cell = (x: number, y: number, content: React.ReactNode, key: string) => (
    <div key={key} style={{ position: "absolute", left: x, top: y - 10, height: 20, lineHeight: "20px", transform: "translateX(-50%)", whiteSpace: "nowrap", fontFamily: SERIF, fontSize: 15 }}>{content}</div>
  );
  const rowLabel = (y: number, content: React.ReactNode) => (
    <div style={{ position: "absolute", left: 8, top: y - 10, height: 20, lineHeight: "20px", whiteSpace: "nowrap", fontFamily: SERIF, fontSize: 15 }}>{content}</div>
  );
  const rule = (y: number) => <div style={{ position: "absolute", left: 8, top: y, width: 489, height: 1, background: "#222" }} />;
  const COLS = [170, 250, 322, 397, 473];
  const fmtSigned = (v: number) => (v < 0 ? "−" : "+") + Math.abs(v).toFixed(2);
  return (
    <>
      <Line y={79} words={W("TABLE I.  AX quasi-free onsets and correction parameters.")} />
      <Line y={100} words={["The", "value", XFG, ...W("denotes the sector-dependent point at which")]} />
      <Line y={120} words={W("the AX screening mass has approached the corresponding")} />
      <Line y={141} words={W("free-field value within the benchmark window; it sets the in-")} />
      <Line
        y={162}
        words={["terval", "1", "≤", <i>x</i>, "≲", XFG, "on", "which", <span>Eq.&thinsp;<span style={{ color: LINK }}>(4)</span></span>, "is", "applied", "and", "tested."]}
      />
      <Line
        y={183}
        words={[
          "The", "row", DELTA_SYM, "gives",
          <span>(<i>m̃</i><SS sup="LQCD" sub="scr,AX" /></span>,
          "−",
          <span><i>m</i><SS sup="CI" sub="free" />)/<i>m</i><SS sup="CI" sub="free" /></span>,
          "at", <span>{XFG}.</span>, "The", "same",
        ]}
      />
      <Line
        y={205}
        words={["response", "form", "ℜ,", <span>Eq.&thinsp;<span style={{ color: LINK }}>(5)</span>,</span>, "is", "used", "in", "all", "sectors;", BETA_FG, "is", "fixed"]}
      />
      <Line y={226} words={W("from this AX point only and then applied without readjust-")} />
      <Line y={247} words={W("ment to all CI channels.  No LQCD VC, PS, or SC inputs")} />
      <Line y={268} words={["enter."]} last />

      {rule(283)}
      {rule(286)}
      {rowLabel(304, "Flavor sector")}
      {SECTOR_QUARKS.map(([q, a], i) => cell(COLS[i], 304, <i>{q}{a}{"\u0304"}</i>, "h" + i))}
      {rule(318)}
      {rowLabel(330, XFG)}
      {X_STAR.map((v, i) => cell(COLS[i], 330, v.toFixed(2), "x" + i))}
      {rowLabel(355, <span>{DELTA_SYM} [%]</span>)}
      {DELTA_AX.map((v, i) => cell(COLS[i], 355, fmtSigned(v), "d" + i))}
      {rowLabel(380, BETA_FG)}
      {BETA.map((v, i) => cell(COLS[i], 380, v, "b" + i))}
      {rule(398)}
      {rule(401)}

      <Line y={459} indent={19} words={["The", "single", "parameter", BETA_FG, ...W("is fixed only by the AX value")]} />
      <Line y={484} words={W("at this endpoint,")} last />
      <div style={{ position: "absolute", left: 110, top: 510, height: 20, lineHeight: "20px", whiteSpace: "nowrap", fontFamily: SERIF, fontSize: 15 }}>
        <i>m</i><SS sup={<span>corr,<i>fg</i></span>} sub="scr,AX" />({XFG}) = <i>m̃</i><SS sup={<span>LQCD,<i>fg</i></span>} sub="scr,AX" />({XFG})&thinsp;.
      </div>
      <div style={{ position: "absolute", right: 1029 - 497, top: 510, height: 20, lineHeight: "20px", fontFamily: SERIF, fontSize: 15 }}>(6)</div>
    </>
  );
}

export default function App() {
  return (
    <div style={{ position: "fixed", left: 0, top: 0, width: 1029, height: 544, background: "#fff", overflow: "hidden", color: "#111" }}>
      <TextColumn />
      {PANELS.map((p, i) => (
        <Panel key={i} spec={p} />
      ))}
      <div style={{ position: "absolute", left: 1010, top: 4, fontFamily: SERIF, fontSize: 15 }}>3</div>
    </div>
  );
}
